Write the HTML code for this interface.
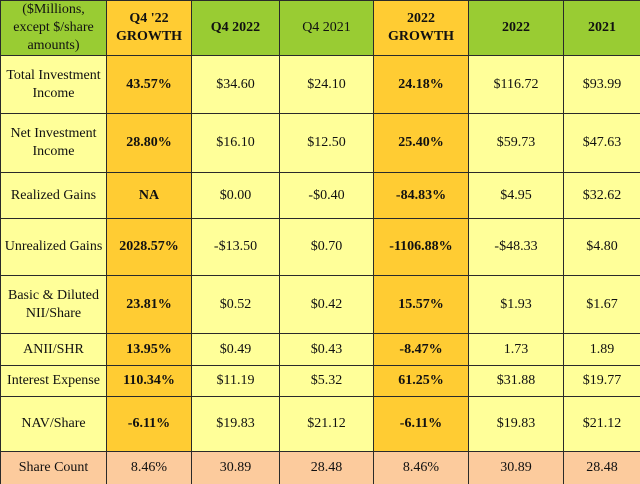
<!DOCTYPE html>
<html><head><meta charset="utf-8"><style>
html,body{margin:0;padding:0;width:640px;height:484px;overflow:hidden;background:#fff}
table{border-collapse:collapse;table-layout:fixed;width:640px;height:484px;font-family:"Liberation Serif",serif;font-size:14px;color:#111}
td{border:1.5px solid #2a2a2a;text-align:center;vertical-align:middle;padding:0 2px;line-height:18px;background:#ffff99}
tr.h td{background:#99cc33;font-weight:bold}
td.g{background:#ffcc33;font-weight:bold}
tr.s td{background:#fccb9d}
tr.h td.g{background:#ffcc33}
tr.h td.n{font-weight:normal}
td.f{font-weight:normal}
</style></head><body>
<table>
<colgroup><col style="width:106px"><col style="width:85px"><col style="width:88px"><col style="width:94px"><col style="width:95px"><col style="width:95px"><col style="width:77px"></colgroup>
<tr class="h" style="height:55px"><td class="n">($Millions, except $/share amounts)</td><td class="g">Q4 '22<br>GROWTH</td><td>Q4 2022</td><td class="n">Q4 2021</td><td class="g">2022<br>GROWTH</td><td>2022</td><td>2021</td></tr>
<tr style="height:58px"><td>Total Investment Income</td><td class="g">43.57%</td><td>$34.60</td><td>$24.10</td><td class="g">24.18%</td><td>$116.72</td><td>$93.99</td></tr>
<tr style="height:59px"><td>Net Investment Income</td><td class="g">28.80%</td><td>$16.10</td><td>$12.50</td><td class="g">25.40%</td><td>$59.73</td><td>$47.63</td></tr>
<tr style="height:46px"><td>Realized Gains</td><td class="g">NA</td><td>$0.00</td><td>-$0.40</td><td class="g">-84.83%</td><td>$4.95</td><td>$32.62</td></tr>
<tr style="height:57px"><td>Unrealized Gains</td><td class="g">2028.57%</td><td>-$13.50</td><td>$0.70</td><td class="g">-1106.88%</td><td>-$48.33</td><td>$4.80</td></tr>
<tr style="height:58px"><td>Basic &amp; Diluted NII/Share</td><td class="g">23.81%</td><td>$0.52</td><td>$0.42</td><td class="g">15.57%</td><td>$1.93</td><td>$1.67</td></tr>
<tr style="height:32px"><td>ANII/SHR</td><td class="g">13.95%</td><td>$0.49</td><td>$0.43</td><td class="g">-8.47%</td><td>1.73</td><td>1.89</td></tr>
<tr style="height:31px"><td>Interest Expense</td><td class="g">110.34%</td><td>$11.19</td><td>$5.32</td><td class="g">61.25%</td><td>$31.88</td><td>$19.77</td></tr>
<tr style="height:55px"><td>NAV/Share</td><td class="g">-6.11%</td><td>$19.83</td><td>$21.12</td><td class="g">-6.11%</td><td>$19.83</td><td>$21.12</td></tr>
<tr class="s" style="height:33px"><td>Share Count</td><td>8.46%</td><td>30.89</td><td>28.48</td><td>8.46%</td><td>30.89</td><td>28.48</td></tr>
</table>
</body></html>
